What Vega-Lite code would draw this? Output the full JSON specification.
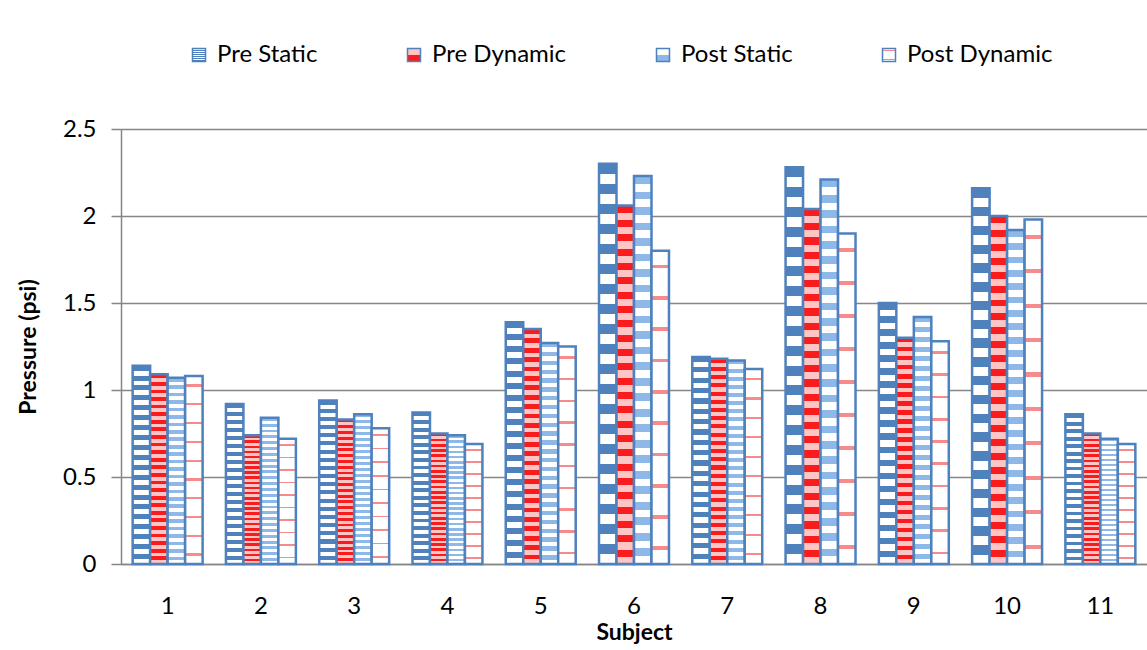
{
  "$schema": "https://vega.github.io/schema/vega-lite/v6.json",
  "width": 1026,
  "height": 435,
  "autosize": "none",
  "padding": {"left": 121, "top": 129, "right": 0, "bottom": 86},
  "background": "white",
  "data": {
    "values": [
      {"subject": 1, "series": "Pre Static", "value": 1.14},
      {"subject": 1, "series": "Pre Dynamic", "value": 1.09},
      {"subject": 1, "series": "Post Static", "value": 1.07},
      {"subject": 1, "series": "Post Dynamic", "value": 1.08},
      {"subject": 2, "series": "Pre Static", "value": 0.92},
      {"subject": 2, "series": "Pre Dynamic", "value": 0.74},
      {"subject": 2, "series": "Post Static", "value": 0.84},
      {"subject": 2, "series": "Post Dynamic", "value": 0.72},
      {"subject": 3, "series": "Pre Static", "value": 0.94},
      {"subject": 3, "series": "Pre Dynamic", "value": 0.83},
      {"subject": 3, "series": "Post Static", "value": 0.86},
      {"subject": 3, "series": "Post Dynamic", "value": 0.78},
      {"subject": 4, "series": "Pre Static", "value": 0.87},
      {"subject": 4, "series": "Pre Dynamic", "value": 0.75},
      {"subject": 4, "series": "Post Static", "value": 0.74},
      {"subject": 4, "series": "Post Dynamic", "value": 0.69},
      {"subject": 5, "series": "Pre Static", "value": 1.39},
      {"subject": 5, "series": "Pre Dynamic", "value": 1.35},
      {"subject": 5, "series": "Post Static", "value": 1.27},
      {"subject": 5, "series": "Post Dynamic", "value": 1.25},
      {"subject": 6, "series": "Pre Static", "value": 2.30},
      {"subject": 6, "series": "Pre Dynamic", "value": 2.06},
      {"subject": 6, "series": "Post Static", "value": 2.23},
      {"subject": 6, "series": "Post Dynamic", "value": 1.80},
      {"subject": 7, "series": "Pre Static", "value": 1.19},
      {"subject": 7, "series": "Pre Dynamic", "value": 1.18},
      {"subject": 7, "series": "Post Static", "value": 1.17},
      {"subject": 7, "series": "Post Dynamic", "value": 1.12},
      {"subject": 8, "series": "Pre Static", "value": 2.28},
      {"subject": 8, "series": "Pre Dynamic", "value": 2.04},
      {"subject": 8, "series": "Post Static", "value": 2.21},
      {"subject": 8, "series": "Post Dynamic", "value": 1.90},
      {"subject": 9, "series": "Pre Static", "value": 1.50},
      {"subject": 9, "series": "Pre Dynamic", "value": 1.30},
      {"subject": 9, "series": "Post Static", "value": 1.42},
      {"subject": 9, "series": "Post Dynamic", "value": 1.28},
      {"subject": 10, "series": "Pre Static", "value": 2.16},
      {"subject": 10, "series": "Pre Dynamic", "value": 2.00},
      {"subject": 10, "series": "Post Static", "value": 1.92},
      {"subject": 10, "series": "Post Dynamic", "value": 1.98},
      {"subject": 11, "series": "Pre Static", "value": 0.86},
      {"subject": 11, "series": "Pre Dynamic", "value": 0.75},
      {"subject": 11, "series": "Post Static", "value": 0.72},
      {"subject": 11, "series": "Post Dynamic", "value": 0.69}
    ]
  },
  "mark": {"type": "bar", "stroke": "#4f81bd", "strokeWidth": 2.5},
  "encoding": {
    "x": {
      "field": "subject",
      "type": "ordinal",
      "title": "Subject",
      "scale": {"paddingInner": 0.25, "paddingOuter": 0.125},
      "axis": {
        "labelAngle": 0,
        "ticks": false,
        "domainColor": "#868686",
        "domainWidth": 1.5,
        "labelFont": "Lato",
        "labelFontSize": 24,
        "labelColor": "#000000",
        "labelPadding": 30,
        "titleFont": "Lato",
        "titleFontSize": 23,
        "titleFontWeight": "bold",
        "titleColor": "#000000",
        "titlePadding": 3
      }
    },
    "xOffset": {
      "field": "series",
      "type": "nominal",
      "scale": {"domain": ["Pre Static", "Pre Dynamic", "Post Static", "Post Dynamic"], "paddingInner": 0, "paddingOuter": 0}
    },
    "y": {
      "field": "value",
      "type": "quantitative",
      "title": "Pressure (psi)",
      "scale": {"domain": [0, 2.5], "nice": false},
      "axis": {
        "values": [0, 0.5, 1, 1.5, 2, 2.5],
        "format": "~g",
        "domainColor": "#868686",
        "domainWidth": 1.5,
        "tickColor": "#868686",
        "tickWidth": 1.5,
        "tickSize": 10,
        "gridColor": "#868686",
        "gridWidth": 1.5,
        "labelFont": "Lato",
        "labelFontSize": 24,
        "labelColor": "#000000",
        "labelPadding": 15,
        "titleFont": "Lato",
        "titleFontSize": 23,
        "titleFontWeight": "bold",
        "titleColor": "#000000",
        "titlePadding": 22
      }
    },
    "fill": {
      "field": "series",
      "type": "nominal",
      "scale": {
        "domain": ["Pre Static", "Pre Dynamic", "Post Static", "Post Dynamic"],
        "range": [
          {"expr": "{gradient:'linear',x1:0,y1:0,x2:0,y2:1,stops:[{offset:0,color:'#4f81bd'},{offset:0.025,color:'#4f81bd'},{offset:0.025,color:'#ffffff'},{offset:0.05,color:'#ffffff'},{offset:0.05,color:'#4f81bd'},{offset:0.075,color:'#4f81bd'},{offset:0.075,color:'#ffffff'},{offset:0.1,color:'#ffffff'},{offset:0.1,color:'#4f81bd'},{offset:0.125,color:'#4f81bd'},{offset:0.125,color:'#ffffff'},{offset:0.15,color:'#ffffff'},{offset:0.15,color:'#4f81bd'},{offset:0.175,color:'#4f81bd'},{offset:0.175,color:'#ffffff'},{offset:0.2,color:'#ffffff'},{offset:0.2,color:'#4f81bd'},{offset:0.225,color:'#4f81bd'},{offset:0.225,color:'#ffffff'},{offset:0.25,color:'#ffffff'},{offset:0.25,color:'#4f81bd'},{offset:0.275,color:'#4f81bd'},{offset:0.275,color:'#ffffff'},{offset:0.3,color:'#ffffff'},{offset:0.3,color:'#4f81bd'},{offset:0.325,color:'#4f81bd'},{offset:0.325,color:'#ffffff'},{offset:0.35,color:'#ffffff'},{offset:0.35,color:'#4f81bd'},{offset:0.375,color:'#4f81bd'},{offset:0.375,color:'#ffffff'},{offset:0.4,color:'#ffffff'},{offset:0.4,color:'#4f81bd'},{offset:0.425,color:'#4f81bd'},{offset:0.425,color:'#ffffff'},{offset:0.45,color:'#ffffff'},{offset:0.45,color:'#4f81bd'},{offset:0.475,color:'#4f81bd'},{offset:0.475,color:'#ffffff'},{offset:0.5,color:'#ffffff'},{offset:0.5,color:'#4f81bd'},{offset:0.525,color:'#4f81bd'},{offset:0.525,color:'#ffffff'},{offset:0.55,color:'#ffffff'},{offset:0.55,color:'#4f81bd'},{offset:0.575,color:'#4f81bd'},{offset:0.575,color:'#ffffff'},{offset:0.6,color:'#ffffff'},{offset:0.6,color:'#4f81bd'},{offset:0.625,color:'#4f81bd'},{offset:0.625,color:'#ffffff'},{offset:0.65,color:'#ffffff'},{offset:0.65,color:'#4f81bd'},{offset:0.675,color:'#4f81bd'},{offset:0.675,color:'#ffffff'},{offset:0.7,color:'#ffffff'},{offset:0.7,color:'#4f81bd'},{offset:0.725,color:'#4f81bd'},{offset:0.725,color:'#ffffff'},{offset:0.75,color:'#ffffff'},{offset:0.75,color:'#4f81bd'},{offset:0.775,color:'#4f81bd'},{offset:0.775,color:'#ffffff'},{offset:0.8,color:'#ffffff'},{offset:0.8,color:'#4f81bd'},{offset:0.825,color:'#4f81bd'},{offset:0.825,color:'#ffffff'},{offset:0.85,color:'#ffffff'},{offset:0.85,color:'#4f81bd'},{offset:0.875,color:'#4f81bd'},{offset:0.875,color:'#ffffff'},{offset:0.9,color:'#ffffff'},{offset:0.9,color:'#4f81bd'},{offset:0.925,color:'#4f81bd'},{offset:0.925,color:'#ffffff'},{offset:0.95,color:'#ffffff'},{offset:0.95,color:'#4f81bd'},{offset:0.975,color:'#4f81bd'},{offset:0.975,color:'#ffffff'},{offset:1,color:'#ffffff'}]}"},
          {"expr": "{gradient:'linear',x1:0,y1:0,x2:0,y2:1,stops:[{offset:0,color:'#f81c1c'},{offset:0.02,color:'#f81c1c'},{offset:0.02,color:'#ffc4c4'},{offset:0.04,color:'#ffc4c4'},{offset:0.04,color:'#f81c1c'},{offset:0.06,color:'#f81c1c'},{offset:0.06,color:'#ffc4c4'},{offset:0.08,color:'#ffc4c4'},{offset:0.08,color:'#f81c1c'},{offset:0.1,color:'#f81c1c'},{offset:0.1,color:'#ffc4c4'},{offset:0.12,color:'#ffc4c4'},{offset:0.12,color:'#f81c1c'},{offset:0.14,color:'#f81c1c'},{offset:0.14,color:'#ffc4c4'},{offset:0.16,color:'#ffc4c4'},{offset:0.16,color:'#f81c1c'},{offset:0.18,color:'#f81c1c'},{offset:0.18,color:'#ffc4c4'},{offset:0.2,color:'#ffc4c4'},{offset:0.2,color:'#f81c1c'},{offset:0.22,color:'#f81c1c'},{offset:0.22,color:'#ffc4c4'},{offset:0.24,color:'#ffc4c4'},{offset:0.24,color:'#f81c1c'},{offset:0.26,color:'#f81c1c'},{offset:0.26,color:'#ffc4c4'},{offset:0.28,color:'#ffc4c4'},{offset:0.28,color:'#f81c1c'},{offset:0.3,color:'#f81c1c'},{offset:0.3,color:'#ffc4c4'},{offset:0.32,color:'#ffc4c4'},{offset:0.32,color:'#f81c1c'},{offset:0.34,color:'#f81c1c'},{offset:0.34,color:'#ffc4c4'},{offset:0.36,color:'#ffc4c4'},{offset:0.36,color:'#f81c1c'},{offset:0.38,color:'#f81c1c'},{offset:0.38,color:'#ffc4c4'},{offset:0.4,color:'#ffc4c4'},{offset:0.4,color:'#f81c1c'},{offset:0.42,color:'#f81c1c'},{offset:0.42,color:'#ffc4c4'},{offset:0.44,color:'#ffc4c4'},{offset:0.44,color:'#f81c1c'},{offset:0.46,color:'#f81c1c'},{offset:0.46,color:'#ffc4c4'},{offset:0.48,color:'#ffc4c4'},{offset:0.48,color:'#f81c1c'},{offset:0.5,color:'#f81c1c'},{offset:0.5,color:'#ffc4c4'},{offset:0.52,color:'#ffc4c4'},{offset:0.52,color:'#f81c1c'},{offset:0.54,color:'#f81c1c'},{offset:0.54,color:'#ffc4c4'},{offset:0.56,color:'#ffc4c4'},{offset:0.56,color:'#f81c1c'},{offset:0.58,color:'#f81c1c'},{offset:0.58,color:'#ffc4c4'},{offset:0.6,color:'#ffc4c4'},{offset:0.6,color:'#f81c1c'},{offset:0.62,color:'#f81c1c'},{offset:0.62,color:'#ffc4c4'},{offset:0.64,color:'#ffc4c4'},{offset:0.64,color:'#f81c1c'},{offset:0.66,color:'#f81c1c'},{offset:0.66,color:'#ffc4c4'},{offset:0.68,color:'#ffc4c4'},{offset:0.68,color:'#f81c1c'},{offset:0.7,color:'#f81c1c'},{offset:0.7,color:'#ffc4c4'},{offset:0.72,color:'#ffc4c4'},{offset:0.72,color:'#f81c1c'},{offset:0.74,color:'#f81c1c'},{offset:0.74,color:'#ffc4c4'},{offset:0.76,color:'#ffc4c4'},{offset:0.76,color:'#f81c1c'},{offset:0.78,color:'#f81c1c'},{offset:0.78,color:'#ffc4c4'},{offset:0.8,color:'#ffc4c4'},{offset:0.8,color:'#f81c1c'},{offset:0.82,color:'#f81c1c'},{offset:0.82,color:'#ffc4c4'},{offset:0.84,color:'#ffc4c4'},{offset:0.84,color:'#f81c1c'},{offset:0.86,color:'#f81c1c'},{offset:0.86,color:'#ffc4c4'},{offset:0.88,color:'#ffc4c4'},{offset:0.88,color:'#f81c1c'},{offset:0.9,color:'#f81c1c'},{offset:0.9,color:'#ffc4c4'},{offset:0.92,color:'#ffc4c4'},{offset:0.92,color:'#f81c1c'},{offset:0.94,color:'#f81c1c'},{offset:0.94,color:'#ffc4c4'},{offset:0.96,color:'#ffc4c4'},{offset:0.96,color:'#f81c1c'},{offset:0.98,color:'#f81c1c'},{offset:0.98,color:'#ffc4c4'},{offset:1,color:'#ffc4c4'}]}"},
          {"expr": "{gradient:'linear',x1:0,y1:0,x2:0,y2:1,stops:[{offset:0,color:'#8db8e8'},{offset:0.02,color:'#8db8e8'},{offset:0.02,color:'#ffffff'},{offset:0.04,color:'#ffffff'},{offset:0.04,color:'#8db8e8'},{offset:0.06,color:'#8db8e8'},{offset:0.06,color:'#ffffff'},{offset:0.08,color:'#ffffff'},{offset:0.08,color:'#8db8e8'},{offset:0.1,color:'#8db8e8'},{offset:0.1,color:'#ffffff'},{offset:0.12,color:'#ffffff'},{offset:0.12,color:'#8db8e8'},{offset:0.14,color:'#8db8e8'},{offset:0.14,color:'#ffffff'},{offset:0.16,color:'#ffffff'},{offset:0.16,color:'#8db8e8'},{offset:0.18,color:'#8db8e8'},{offset:0.18,color:'#ffffff'},{offset:0.2,color:'#ffffff'},{offset:0.2,color:'#8db8e8'},{offset:0.22,color:'#8db8e8'},{offset:0.22,color:'#ffffff'},{offset:0.24,color:'#ffffff'},{offset:0.24,color:'#8db8e8'},{offset:0.26,color:'#8db8e8'},{offset:0.26,color:'#ffffff'},{offset:0.28,color:'#ffffff'},{offset:0.28,color:'#8db8e8'},{offset:0.3,color:'#8db8e8'},{offset:0.3,color:'#ffffff'},{offset:0.32,color:'#ffffff'},{offset:0.32,color:'#8db8e8'},{offset:0.34,color:'#8db8e8'},{offset:0.34,color:'#ffffff'},{offset:0.36,color:'#ffffff'},{offset:0.36,color:'#8db8e8'},{offset:0.38,color:'#8db8e8'},{offset:0.38,color:'#ffffff'},{offset:0.4,color:'#ffffff'},{offset:0.4,color:'#8db8e8'},{offset:0.42,color:'#8db8e8'},{offset:0.42,color:'#ffffff'},{offset:0.44,color:'#ffffff'},{offset:0.44,color:'#8db8e8'},{offset:0.46,color:'#8db8e8'},{offset:0.46,color:'#ffffff'},{offset:0.48,color:'#ffffff'},{offset:0.48,color:'#8db8e8'},{offset:0.5,color:'#8db8e8'},{offset:0.5,color:'#ffffff'},{offset:0.52,color:'#ffffff'},{offset:0.52,color:'#8db8e8'},{offset:0.54,color:'#8db8e8'},{offset:0.54,color:'#ffffff'},{offset:0.56,color:'#ffffff'},{offset:0.56,color:'#8db8e8'},{offset:0.58,color:'#8db8e8'},{offset:0.58,color:'#ffffff'},{offset:0.6,color:'#ffffff'},{offset:0.6,color:'#8db8e8'},{offset:0.62,color:'#8db8e8'},{offset:0.62,color:'#ffffff'},{offset:0.64,color:'#ffffff'},{offset:0.64,color:'#8db8e8'},{offset:0.66,color:'#8db8e8'},{offset:0.66,color:'#ffffff'},{offset:0.68,color:'#ffffff'},{offset:0.68,color:'#8db8e8'},{offset:0.7,color:'#8db8e8'},{offset:0.7,color:'#ffffff'},{offset:0.72,color:'#ffffff'},{offset:0.72,color:'#8db8e8'},{offset:0.74,color:'#8db8e8'},{offset:0.74,color:'#ffffff'},{offset:0.76,color:'#ffffff'},{offset:0.76,color:'#8db8e8'},{offset:0.78,color:'#8db8e8'},{offset:0.78,color:'#ffffff'},{offset:0.8,color:'#ffffff'},{offset:0.8,color:'#8db8e8'},{offset:0.82,color:'#8db8e8'},{offset:0.82,color:'#ffffff'},{offset:0.84,color:'#ffffff'},{offset:0.84,color:'#8db8e8'},{offset:0.86,color:'#8db8e8'},{offset:0.86,color:'#ffffff'},{offset:0.88,color:'#ffffff'},{offset:0.88,color:'#8db8e8'},{offset:0.9,color:'#8db8e8'},{offset:0.9,color:'#ffffff'},{offset:0.92,color:'#ffffff'},{offset:0.92,color:'#8db8e8'},{offset:0.94,color:'#8db8e8'},{offset:0.94,color:'#ffffff'},{offset:0.96,color:'#ffffff'},{offset:0.96,color:'#8db8e8'},{offset:0.98,color:'#8db8e8'},{offset:0.98,color:'#ffffff'},{offset:1,color:'#ffffff'}]}"},
          {"expr": "{gradient:'linear',x1:0,y1:0,x2:0,y2:1,stops:[{offset:0,color:'#ffffff'},{offset:0.044,color:'#ffffff'},{offset:0.044,color:'#f78a8a'},{offset:0.056,color:'#f78a8a'},{offset:0.056,color:'#ffffff'},{offset:0.144,color:'#ffffff'},{offset:0.144,color:'#f78a8a'},{offset:0.156,color:'#f78a8a'},{offset:0.156,color:'#ffffff'},{offset:0.244,color:'#ffffff'},{offset:0.244,color:'#f78a8a'},{offset:0.256,color:'#f78a8a'},{offset:0.256,color:'#ffffff'},{offset:0.344,color:'#ffffff'},{offset:0.344,color:'#f78a8a'},{offset:0.356,color:'#f78a8a'},{offset:0.356,color:'#ffffff'},{offset:0.444,color:'#ffffff'},{offset:0.444,color:'#f78a8a'},{offset:0.456,color:'#f78a8a'},{offset:0.456,color:'#ffffff'},{offset:0.544,color:'#ffffff'},{offset:0.544,color:'#f78a8a'},{offset:0.556,color:'#f78a8a'},{offset:0.556,color:'#ffffff'},{offset:0.644,color:'#ffffff'},{offset:0.644,color:'#f78a8a'},{offset:0.656,color:'#f78a8a'},{offset:0.656,color:'#ffffff'},{offset:0.744,color:'#ffffff'},{offset:0.744,color:'#f78a8a'},{offset:0.756,color:'#f78a8a'},{offset:0.756,color:'#ffffff'},{offset:0.844,color:'#ffffff'},{offset:0.844,color:'#f78a8a'},{offset:0.856,color:'#f78a8a'},{offset:0.856,color:'#ffffff'},{offset:0.944,color:'#ffffff'},{offset:0.944,color:'#f78a8a'},{offset:0.956,color:'#f78a8a'},{offset:0.956,color:'#ffffff'},{offset:1,color:'#ffffff'}]}"}
        ]
      },
      "legend": {
        "title": null,
        "orient": "none",
        "direction": "horizontal",
        "legendX": 66,
        "legendY": -86,
        "padding": 0,
        "symbolType": "square",
        "symbolSize": 169,
        "symbolStrokeColor": "#4f81bd",
        "symbolStrokeWidth": 1.5,
        "labelFont": "Lato",
        "labelFontSize": 24,
        "labelColor": "#000000",
        "labelOffset": 6,
        "labelLimit": 300,
        "columnPadding": 84
      }
    }
  },
  "config": {"view": {"stroke": null}}
}
